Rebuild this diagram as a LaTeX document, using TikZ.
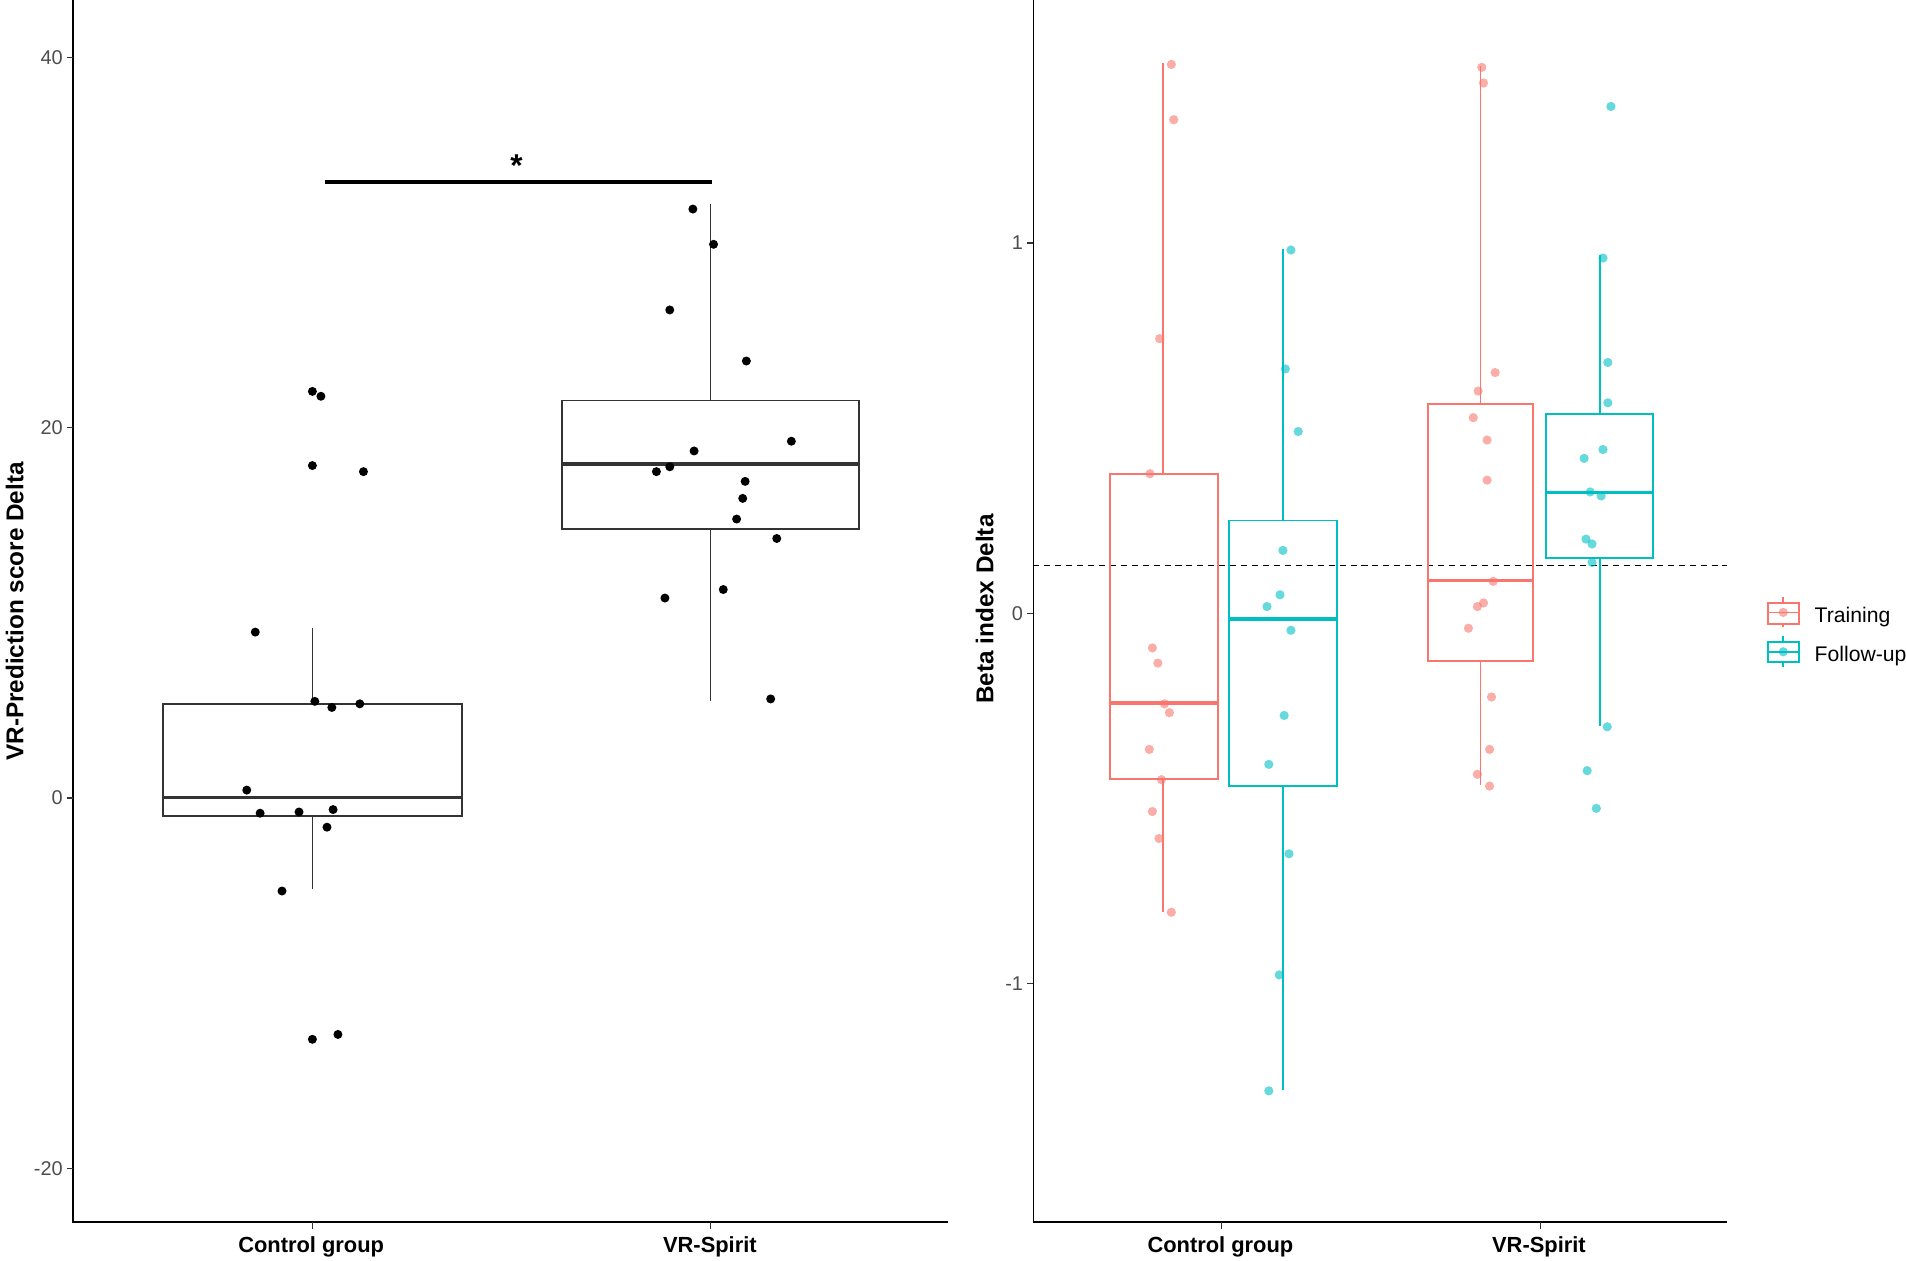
\documentclass[tikz,border=0pt]{standalone}
\usepackage{fontspec}
\setmainfont{Liberation Sans}
\definecolor{tr}{HTML}{F8766D}
\definecolor{fu}{HTML}{00BFC4}
\definecolor{ticktxt}{HTML}{4D4D4D}
\definecolor{boxline}{HTML}{333333}
\begin{document}
\begin{tikzpicture}[x=0.5pt,y=-0.5pt,
  axisline/.style={line width=1pt,black},
  axisthin/.style={line width=0.6pt,black},
  tickmark/.style={line width=0.5pt,black!80},
  ticklab/.style={font=\fontsize{8.2}{9}\selectfont,text=ticktxt,inner sep=0pt},
  grouplab/.style={font=\bfseries\fontsize{9}{10}\selectfont,inner sep=0pt},
  ytitle/.style={font=\bfseries\fontsize{10}{12}\selectfont,rotate=90,inner sep=0pt},
  bwbox/.style={line width=0.75pt,boxline},
  bwmed/.style={line width=1.5pt,boxline},
  bwwhisk/.style={line width=0.5pt,boxline},
  cbox/.style={line width=0.8pt},
  cmed/.style={line width=1.4pt},
  cwhisk/.style={line width=0.7pt},
  dotL/.style={fill=black},
  dotT/.style={fill=tr,fill opacity=0.6},
  dotF/.style={fill=fu,fill opacity=0.6},
  legtxt/.style={font=\fontsize{8.7}{10}\selectfont,inner sep=0pt,anchor=base west}
]
\useasboundingbox (0,0) rectangle (1568,1036.6);

% ================= LEFT PANEL =================
\draw[axisline] (60,0) -- (60,1005.5) -- (780,1005.5);
\foreach \v/\yy in {40/47.3,20/351.9,0/656.5,-20/961.1}{
  \draw[tickmark] (55,\yy) -- (60,\yy);
  \node[ticklab,anchor=east] (ly\v) at (52,\yy) {\v};
}
\draw[tickmark] (257,1005.5) -- (257,1011);
\draw[tickmark] (584.5,1005.5) -- (584.5,1011);
\node[grouplab] (lxc) at (256,1025.5) {Control group};
\node[grouplab] (lxv) at (584,1025.5) {VR-Spirit};
\node[ytitle] (lyt) at (12,503) {VR-Prediction score Delta};

% control box
\draw[bwwhisk] (257,579) -- (257,517);
\draw[bwwhisk] (257,671.5) -- (257,731.5);
\draw[bwbox,fill=white] (134,579) rectangle (380,671.5);
\draw[bwmed] (134,656) -- (380,656);
% VR box
\draw[bwwhisk] (584.5,329.5) -- (584.5,168);
\draw[bwwhisk] (584.5,435.5) -- (584.5,577);
\draw[bwbox,fill=white] (462,329.5) rectangle (706.5,435.5);
\draw[bwmed] (462,381.5) -- (706.5,381.5);

% significance bar
\draw[line width=1.8pt] (267,149.5) -- (586,149.5);
\node[font=\bfseries\fontsize{13}{14}\selectfont,inner sep=0pt,anchor=base] (sig) at (425,145) {*};

% points
\foreach \px/\py in {257/322,264/326,257/383,299/388,210/520,259/577,273/582,296/579,203/650,214/669,246/668,274/666,269/680.5,232/733,257/855,278/851,
570/172,587/201,551/255,614/297,651/363,571/371,551/384,540/388,613/396,611/410,606/427,639/443,595/485,547/492,634/575}
  \fill[dotL] (\px,\py) circle (1.85pt);

% ================= RIGHT PANEL =================
\draw[axisthin] (850,0) -- (850,1005.5);
\draw[axisline] (850,1005.5) -- (1421,1005.5);
\foreach \v/\yy in {1/200,0/504.5,-1/809}{
  \draw[tickmark] (845,\yy) -- (850,\yy);
  \node[ticklab,anchor=east] (ry\v) at (842,\yy) {\v};
}
\draw[tickmark] (1005,1005.5) -- (1005,1011);
\draw[tickmark] (1267.5,1005.5) -- (1267.5,1011);
\node[grouplab] (rxc) at (1004,1025.5) {Control group};
\node[grouplab] (rxv) at (1266,1025.5) {VR-Spirit};
\node[ytitle] (ryt) at (810,501) {Beta index Delta};

% dashed reference line
\draw[line width=0.5pt,black,dash pattern=on 2.5pt off 2pt] (850,465) -- (1421,465);

% Control - Training
\draw[cwhisk,tr] (957,389.7) -- (957,52);
\draw[cwhisk,tr] (957,641) -- (957,750);
\draw[cbox,tr] (913,389.7) rectangle (1001.7,641);
\draw[cmed,tr] (913,578.3) -- (1001.7,578.3);
% Control - Follow-up
\draw[cwhisk,fu] (1055.5,428.2) -- (1055.5,204.7);
\draw[cwhisk,fu] (1055.5,646.7) -- (1055.5,896.4);
\draw[cbox,fu] (1011,428.2) rectangle (1100,646.7);
\draw[cmed,fu] (1011,509.2) -- (1100,509.2);
% VR - Training
\draw[cwhisk,tr] (1218,332.7) -- (1218,54.7);
\draw[cwhisk,tr] (1218,543.8) -- (1218,646);
\draw[cbox,tr] (1175,332.7) rectangle (1261.5,543.8);
\draw[cmed,tr] (1175,477.6) -- (1261.5,477.6);
% VR - Follow-up
\draw[cwhisk,fu] (1316,340.7) -- (1316,209.6);
\draw[cwhisk,fu] (1316,459) -- (1316,597.2);
\draw[cbox,fu] (1271.6,340.7) rectangle (1359.8,459);
\draw[cmed,fu] (1271.6,405.3) -- (1359.8,405.3);

% points
\foreach \px/\py in {963.6/53,965.6/98.5,954/278.6,946/389.7,948/533,952.5/545.5,958/579,962/586.3,945.5/616.5,955.5/641.4,948/667.6,953.5/689.8,963.6/750.5,
1219/55.4,1220.4/68.3,1230/306.5,1216/321.7,1212/343.6,1223.4/362,1223.4/395,1228.4/478.3,1220.4/496,1215.4/499,1208/516.8,1227/573.4,1225.4/616.5,1215.4/637,1225.4/646.7}
  \fill[dotT] (\px,\py) circle (1.9pt);
\foreach \px/\py in {1062/205.7,1057.4/303.5,1068/355,1055.4/452.8,1053/489.3,1042.3/499,1062/518.5,1056.4/588.6,1043.8/628.8,1060.4/702.4,1052.4/802,1043.8/897.4,
1325.2/87.6,1318.7/212.3,1322.7/298.2,1322.7/331.4,1318.7/369.8,1303.2/377.1,1308.2/404.7,1317.2/408,1304.7/443.5,1309.7/447.5,1309.7/462.7,1322.2/597.9,1305.7/634,1313.2/665}
  \fill[dotF] (\px,\py) circle (1.9pt);

% ================= LEGEND =================
\draw[cwhisk,tr] (1467,490.8) -- (1467,515.7);
\draw[cbox,tr,fill=white] (1454.5,496) rectangle (1480,513);
\draw[cwhisk,tr] (1454.5,503.8) -- (1480,503.8);
\fill[dotT] (1467,503.8) circle (1.9pt);
\node[legtxt] (legT) at (1492.5,512.5) {Training};

\draw[cwhisk,fu] (1467,523.2) -- (1467,548.6);
\draw[cbox,fu,fill=white] (1454.5,527.8) rectangle (1480,544.6);
\draw[cwhisk,fu] (1454.5,536.2) -- (1480,536.2);
\fill[dotF] (1467,536.2) circle (1.9pt);
\node[legtxt] (legF) at (1492.5,544.3) {Follow-up};
\end{tikzpicture}
\end{document}
